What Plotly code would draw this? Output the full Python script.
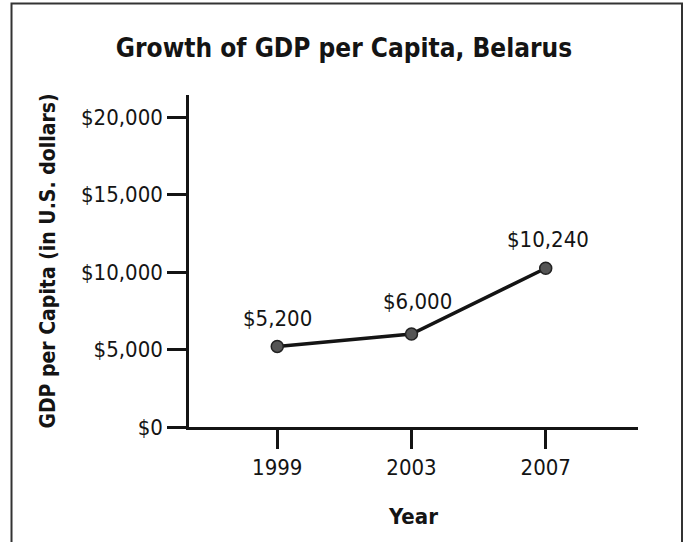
import plotly.graph_objects as go

years = [1999, 2003, 2007]
gdp = [5200, 6000, 10240]
point_labels = ["$5,200", "$6,000", "$10,240"]
y_tick_vals = [0, 5000, 10000, 15000, 20000]
y_tick_text = ["$0", "$5,000", "$10,000", "$15,000", "$20,000"]
x_tick_vals = [1999, 2003, 2007]
x_tick_text = ["1999", "2003", "2007"]

FONT = "DejaVu Sans Condensed, Liberation Sans Narrow, sans-serif"
INK = "#141414"

fig = go.Figure()
fig.add_trace(go.Scatter(
    x=years, y=gdp, mode="lines+markers",
    line=dict(color=INK, width=3.5),
    marker=dict(size=12, color="#555555", line=dict(color="#222222", width=1.5)),
    cliponaxis=False, showlegend=False, hoverinfo="skip",
))

label_shift_x = [0, 6, 2]
label_shift_y = [13, 18, 14]
for xv, yv, t, dx, dy in zip(years, gdp, point_labels, label_shift_x, label_shift_y):
    fig.add_annotation(x=xv, y=yv, text=t, showarrow=False, xanchor="center", yanchor="bottom",
                       xshift=dx, yshift=dy, font=dict(family=FONT, size=22, color=INK))

fig.update_layout(
    width=688, height=542,
    margin=dict(l=189, r=50, t=95, b=115, autoexpand=False),
    paper_bgcolor="white", plot_bgcolor="white",
    font=dict(family=FONT, color=INK),
    title=dict(text="<b>Growth of GDP per Capita, Belarus</b>",
               x=0.5, xanchor="center", y=1 - 48/542, yanchor="middle",
               font=dict(family=FONT, size=26, color=INK)),
    xaxis=dict(range=[1996.37, 2009.75], tickvals=x_tick_vals, ticktext=x_tick_text,
               showgrid=False, zeroline=False, showline=True, linecolor=INK, linewidth=2.5,
               ticks="outside", ticklen=19, tickwidth=2.5, tickcolor=INK, automargin=False,
               tickfont=dict(family=FONT, size=22, color=INK),
               title=dict(text="<b>Year</b>", standoff=30,
                          font=dict(family=FONT, size=22, color=INK))),
    yaxis=dict(range=[0, 21420], tickvals=y_tick_vals, ticktext=y_tick_text,
               showgrid=False, zeroline=False, showline=True, linecolor=INK, linewidth=2.5,
               ticks="outside", ticklen=19, tickwidth=2.5, tickcolor=INK, automargin=False,
               tickfont=dict(family=FONT, size=22, color=INK),
               title=dict(text="<b>GDP per Capita (in U.S. dollars)</b>", standoff=20,
                          font=dict(family=FONT, size=21, color=INK))),
)

fig.add_shape(type="rect", xref="paper", yref="paper",
              x0=-0.3953, x1=1.098, y0=-0.42, y1=1.2756,
              line=dict(color="#333333", width=2), layer="below")

fig.write_html("out.html", config={"displayModeBar": False},
               post_script="document.body.style.margin='0';document.body.style.overflow='hidden';")
